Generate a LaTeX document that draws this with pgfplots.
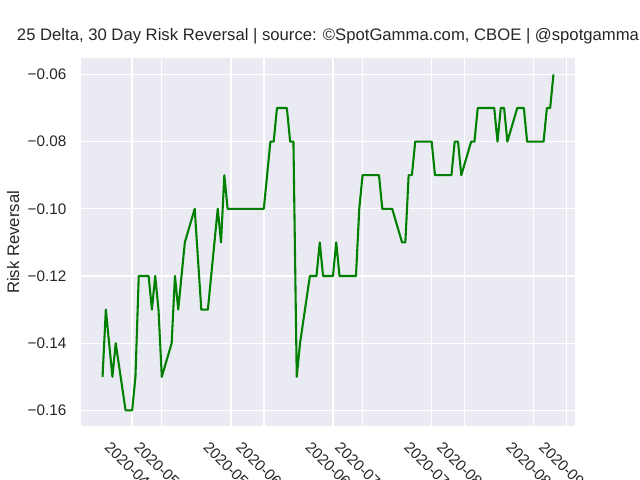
\documentclass[border=0pt]{standalone}
\usepackage{pgfplots}
\pgfplotsset{compat=1.18}
\usepackage{pgfplotstable}
\usepackage{fontspec}
\setmainfont{Liberation Sans}
\definecolor{bgc}{RGB}{234,234,242}
\definecolor{txt}{RGB}{38,38,38}
\definecolor{mplgreen}{RGB}{0,128,0}
% day = days since 2020-04-13
\pgfplotstableread{
day value
0 -0.15
1 -0.13
3 -0.15
4 -0.14
7 -0.16
9 -0.16
10 -0.15
11 -0.12
14 -0.12
15 -0.13
16 -0.12
17 -0.13
18 -0.15
21 -0.14
22 -0.12
23 -0.13
25 -0.11
28 -0.10
30 -0.13
32 -0.13
35 -0.10
36 -0.11
37 -0.09
38 -0.10
49 -0.10
51 -0.08
52 -0.08
53 -0.07
56 -0.07
57 -0.08
58 -0.08
59 -0.15
60 -0.14
63 -0.12
65 -0.12
66 -0.11
67 -0.12
70 -0.12
71 -0.11
72 -0.12
77 -0.12
78 -0.10
79 -0.09
84 -0.09
85 -0.10
88 -0.10
91 -0.11
92 -0.11
93 -0.09
94 -0.09
95 -0.08
100 -0.08
101 -0.09
106 -0.09
107 -0.08
108 -0.08
109 -0.09
112 -0.08
113 -0.08
114 -0.07
119 -0.07
120 -0.08
121 -0.07
122 -0.07
123 -0.08
126 -0.07
128 -0.07
129 -0.08
134 -0.08
135 -0.07
136 -0.07
137 -0.06
}\rrdata
\begin{document}
\begin{tikzpicture}
\useasboundingbox (0,0) rectangle (460.8pt,345.6pt);
\clip (0,0) rectangle (460.8pt,345.6pt);
\begin{axis}[
  at={(57.6pt,38.016pt)}, anchor=south west,
  scale only axis, width=357.12pt, height=266.112pt,
  xmin=-6.85, xmax=143.85, ymin=-0.165, ymax=-0.055,
  axis background/.style={fill=bgc},
  axis line style={draw=white, line width=1.25pt},
  grid=major, grid style={white, line width=1pt},
  major tick length=0pt,
  xtick={9,18,39,49,70,79,100,110,131,141},
  xticklabels={2020-04-22,2020-05-01,2020-05-22,2020-06-01,2020-06-22,2020-07-01,2020-07-22,2020-08-01,2020-08-22,2020-09-01},
  ytick={-0.16,-0.14,-0.12,-0.10,-0.08,-0.06},
  yticklabels={−0.16,−0.14,−0.12,−0.10,−0.08,−0.06},
  ticklabel style={font=\fontsize{11}{13}\selectfont, text=txt},
  xticklabel style={inner sep=0pt, xshift=-15pt, yshift=-9.5pt, rotate=-45, anchor=north west},
  yticklabel style={inner sep=0pt, anchor=east, xshift=-9.6pt},
  ylabel={Risk Reversal},
  ylabel style={at={(axis description cs:-0.135,0.5)}, anchor=center, inner sep=0pt, font=\fontsize{12}{14}\selectfont, text=txt},
  title={25 Delta, 30 Day Risk Reversal | source: ©SpotGamma.com, CBOE | @spotgamma},
  title style={at={(axis description cs:0.5,1)}, anchor=base, yshift=6.5pt, inner sep=0pt, font=\fontsize{12}{14}\selectfont, text=txt},
]
\addplot[mplgreen, line width=1.5pt, line join=round] table[x=day, y=value] {\rrdata};
\end{axis}
\end{tikzpicture}
\end{document}
